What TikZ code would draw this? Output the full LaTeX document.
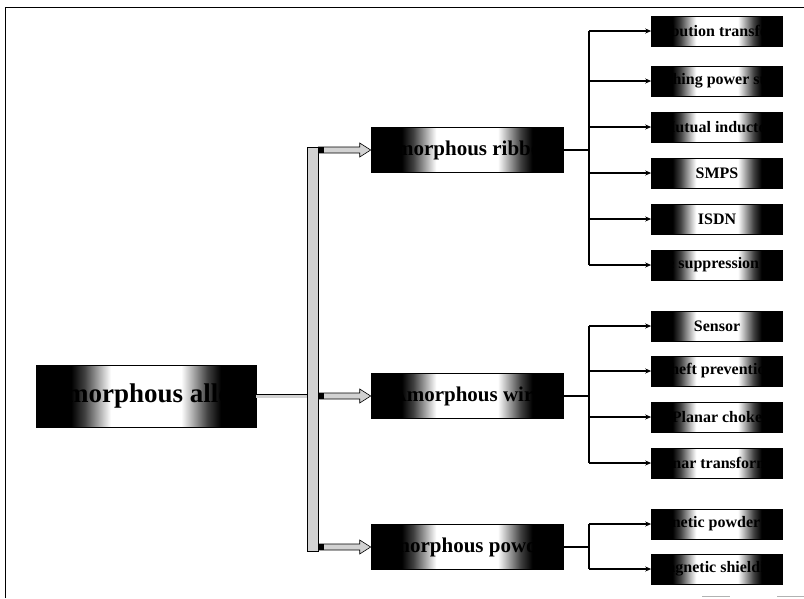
\documentclass[tikz,border=0pt]{standalone}
\usepackage{fontspec}
\setmainfont{Liberation Serif}
\usetikzlibrary{arrows.meta,calc}
\pgfdeclarehorizontalshading{boxshade}{100bp}{color(0bp)=(black); color(25bp)=(black); color(33bp)=(black); color(36bp)=(black!75); color(42bp)=(white); color(58bp)=(white); color(64bp)=(black!75); color(67bp)=(black); color(75bp)=(black); color(100bp)=(black)}
\tikzset{
  boxbase/.style={rectangle, shading=boxshade, draw=black, line width=0.6pt, inner sep=0pt},
  rootbox/.style={boxbase, minimum width=220pt, minimum height=62pt},
  midbox/.style={boxbase, minimum width=192pt, minimum height=45pt},
  leafbox/.style={boxbase, minimum width=131pt, minimum height=30pt},
  lab/.style 2 args={path picture={\node[font=\bfseries\fontsize{#1}{#1}\selectfont, inner sep=0pt, text=black] at (path picture bounding box.center) {#2};}},
  barstyle/.style={rectangle, draw=black, line width=0.8pt, fill=gray!35, inner sep=0pt, minimum width=11pt, minimum height=404pt},
  fatarrow/.style={draw=black, line width=0.6pt, fill=gray!35},
  branch/.style={draw=black, line width=1.1pt},
  leafarrow/.style={draw=black, line width=1.1pt, -{Stealth[length=6pt,width=5pt]}},
  framestyle/.style={draw=black, line width=1pt}
}
\newcommand\fatarr[2]{%
  \draw[fatarrow] let \p1=(#1), \p2=(#2) in
    (\x1,\y2+3pt) -- (\x2-11pt,\y2+3pt) -- (\x2-11pt,\y2+7pt) -- (\x2,\y2)
    -- (\x2-11pt,\y2-7pt) -- (\x2-11pt,\y2-3pt) -- (\x1,\y2-3pt) -- cycle;
  \fill[black] let \p1=(#1), \p2=(#2) in (\x1,\y2+3pt) rectangle (\x1+6pt,\y2-3pt);
}
\begin{document}
\begin{tikzpicture}[x=1pt,y=-1pt]
\useasboundingbox (0,0) rectangle (804,598);
% frame
\draw[framestyle] (5,598) -- (5,7) -- (804,7);
\draw[gray!60, line width=1pt] (702,596.5) -- (730,596.5);
\draw[gray!60, line width=1pt] (777,596.5) -- (804,596.5);

% main nodes
\node[rootbox, lab={27}{Amorphous alloy}] (root) at (146,396) {};
\node[barstyle] (bar) at (312.5,349) {};
\node[midbox, lab={21}{Amorphous ribbon}] (rib) at (467,150) {};
\node[midbox, lab={21}{Amorphous wire}] (wire) at (467,396) {};
\node[midbox, lab={21}{Amorphous powder}] (pow) at (467,547) {};

% leaves
\node[leafbox, lab={16}{Distribution transformer}] (r1) at (717,31) {};
\node[leafbox, lab={16}{Switching power supply}] (r2) at (717,81) {};
\node[leafbox, lab={16}{Mutual inductor}] (r3) at (717,127) {};
\node[leafbox, lab={16}{SMPS}] (r4) at (717,173) {};
\node[leafbox, lab={16}{ISDN}] (r5) at (717,219) {};
\node[leafbox, lab={16}{Noise suppression filter}] (r6) at (717,265) {};
\node[leafbox, lab={16}{Sensor}] (w1) at (717,326) {};
\node[leafbox, lab={16}{Theft prevention}] (w2) at (717,371) {};
\node[leafbox, lab={16}{Planar choke}] (w3) at (717,417) {};
\node[leafbox, lab={16}{Planar transformer}] (w4) at (717,463) {};
\node[leafbox, lab={16}{Magnetic powder core}] (p1) at (717,524) {};
\node[leafbox, lab={16}{Magnetic shielding}] (p2) at (717,569) {};

% root to bar
\draw[double=gray!35, double distance=3pt, line width=0.6pt] (root.east) -- (root.east -| bar.west);
% bar to mid boxes
\fatarr{bar.east |- rib.west}{rib.west}
\fatarr{bar.east |- wire.west}{wire.west}
\fatarr{bar.east |- pow.west}{pow.west}

% branch junctions
\coordinate (rj) at (589,150);
\coordinate (wj) at (589,396);
\coordinate (pj) at (589,547);

\draw[branch] (rib.east) -- (rj);
\draw[branch] (rj |- r1.west) -- (rj |- r6.west);
\foreach \n in {r1,r2,r3,r4,r5,r6} \draw[leafarrow] (rj |- \n.west) -- (\n.west);

\draw[branch] (wire.east) -- (wj);
\draw[branch] (wj |- w1.west) -- (wj |- w4.west);
\foreach \n in {w1,w2,w3,w4} \draw[leafarrow] (wj |- \n.west) -- (\n.west);

\draw[branch] (pow.east) -- (pj);
\draw[branch] (pj |- p1.west) -- (pj |- p2.west);
\foreach \n in {p1,p2} \draw[leafarrow] (pj |- \n.west) -- (\n.west);
\end{tikzpicture}
\end{document}
